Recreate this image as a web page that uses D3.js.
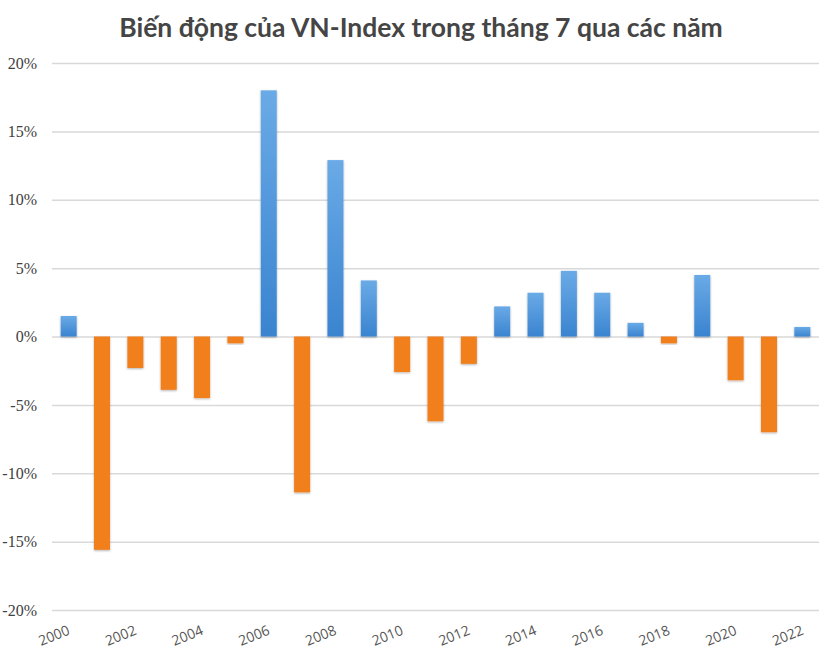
<!DOCTYPE html>
<html>
<head>
<meta charset="utf-8">
<script src="https://cdn.jsdelivr.net/npm/d3@7"></script>
<style>
  body { margin: 0; background: #fff; }
</style>
</head>
<body>
<svg width="836" height="660"></svg>
<script>
// data
const years = ['2000', '2001', '2002', '2003', '2004', '2005', '2006', '2007', '2008', '2009', '2010', '2011',
  '2012', '2013', '2014', '2015', '2016', '2017', '2018', '2019', '2020', '2021', '2022'];
const changes = [1.5, -15.6, -2.3, -3.9, -4.5, -0.5, 18.0, -11.4, 12.9, 4.1, -2.6, -6.2,
  -2.0, 2.2, 3.2, 4.8, 3.2, 1.0, -0.5, 4.5, -3.2, -7.0, 0.7];
const yTicks = [-20, -15, -10, -5, 0, 5, 10, 15, 20];
const xLabels = ['2000', '2002', '2004', '2006', '2008', '2010', '2012', '2014', '2016', '2018', '2020', '2022'];

const svg = d3.select('svg');
const plotLeft = 52, plotRight = 819, plotTop = 63, plotBottom = 610;

const defs = svg.append('defs');
const grad = defs.append('linearGradient').attr('id', 'blue').attr('x1', 0).attr('y1', 0).attr('x2', 0).attr('y2', 1);
grad.append('stop').attr('offset', '0%').attr('stop-color', '#6aaae6');
grad.append('stop').attr('offset', '100%').attr('stop-color', '#3a84d0');
const shadow = defs.append('filter').attr('id', 'shadow').attr('x', '-30%').attr('y', '-10%').attr('width', '160%').attr('height', '130%');
shadow.append('feDropShadow').attr('dx', 0).attr('dy', 1).attr('stdDeviation', 1.2).attr('flood-color', '#000').attr('flood-opacity', 0.3);

svg.append('text')
  .attr('x', 421).attr('y', 37)
  .attr('text-anchor', 'middle')
  .attr('font-family', 'Lato, "Open Sans", sans-serif')
  .attr('font-weight', 'bold')
  .attr('font-size', '26.5px')
  .attr('fill', '#454545')
  .text('Biến động của VN-Index trong tháng 7 qua các năm');

const x = d3.scaleBand().domain(years).range([plotLeft, plotRight]).paddingInner(0.52).paddingOuter(0.26);
const y = d3.scaleLinear().domain([-20, 20]).range([plotBottom, plotTop]);

// gridlines + y labels
const yAxis = svg.append('g')
  .attr('transform', 'translate(' + plotLeft + ',0)')
  .call(d3.axisLeft(y).tickValues(yTicks).tickSize(-(plotRight - plotLeft)).tickPadding(15)
    .tickFormat(function (d) { return d + '%'; }));
yAxis.select('.domain').remove();
yAxis.selectAll('line').attr('stroke', '#d9d9d9').attr('stroke-width', 1.5);
yAxis.selectAll('text')
  .attr('font-family', '"Liberation Serif", "DejaVu Serif", serif')
  .attr('font-size', '16px')
  .attr('fill', '#404040');

svg.append('g').selectAll('rect')
  .data(changes)
  .enter().append('rect')
  .attr('x', function (d, i) { return x(years[i]); })
  .attr('y', function (d) { return y(Math.max(0, d)); })
  .attr('width', x.bandwidth())
  .attr('height', function (d) { return Math.abs(y(d) - y(0)); })
  .attr('fill', function (d) { return d >= 0 ? 'url(#blue)' : '#f07f1f'; })
  .attr('filter', 'url(#shadow)');

// x labels, every other year, slanted and ending at the bar centre
svg.append('g').selectAll('text')
  .data(xLabels)
  .enter().append('text')
  .attr('transform', function (d) {
    return 'translate(' + (x(d) + x.bandwidth() / 2 + 2) + ',' + (plotBottom + 24) + ') rotate(-22)';
  })
  .attr('text-anchor', 'end')
  .attr('font-family', '"Open Sans", sans-serif')
  .attr('font-size', '14px')
  .attr('fill', '#555')
  .text(function (d) { return d; });
</script>
</body>
</html>
